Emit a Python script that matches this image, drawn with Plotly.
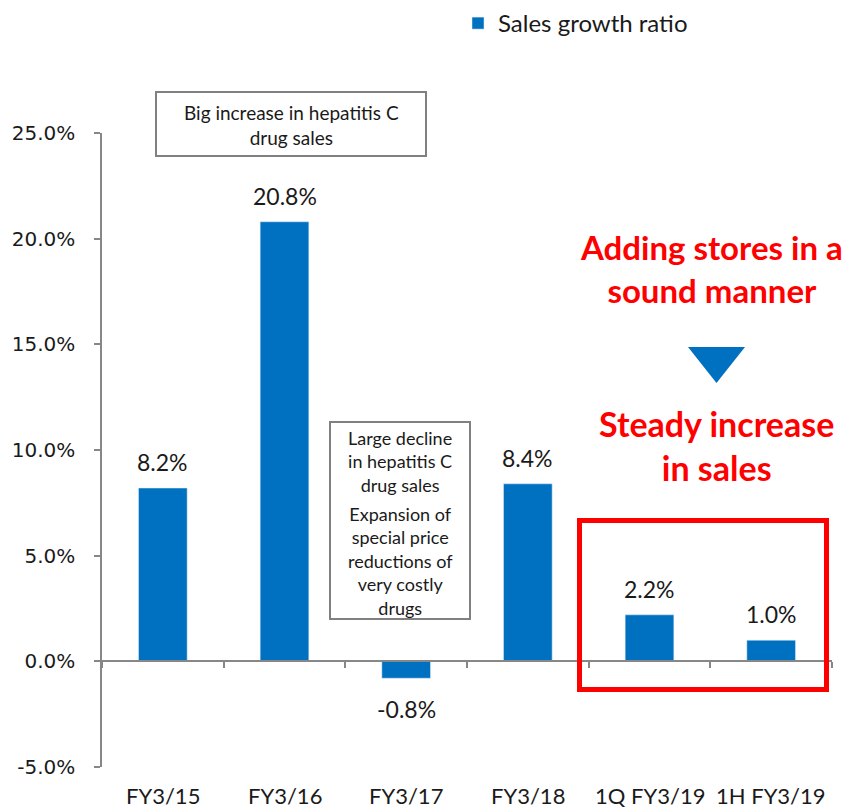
import plotly.graph_objects as go

categories = ["FY3/15", "FY3/16", "FY3/17", "FY3/18", "1Q FY3/19", "1H FY3/19"]
growth_pct = [8.2, 20.8, -0.8, 8.4, 2.2, 1.0]
y_ticks = [-5, 0, 5, 10, 15, 20, 25]

BLUE = "#0070C0"
RED = "#FF0000"
GREY = "#878787"
BOX_GREY = "#808080"
TEXT = "#1a1a1a"
BODY_FONT = "Lato"

Y_MIN, Y_MAX = -5, 25
# the page body adds an 8px margin, so the figure is drawn 8px smaller
PAGE_PAD = 8
W, H = 853 - PAGE_PAD, 810 - PAGE_PAD
PLOT_LEFT, PLOT_RIGHT, PLOT_TOP, PLOT_BOTTOM = 102, 832, 133, 767  # in screen pixels
L, T = PLOT_LEFT - PAGE_PAD, PLOT_TOP - PAGE_PAD
R, B = W - (PLOT_RIGHT - PAGE_PAD), H - (PLOT_BOTTOM - PAGE_PAD)
PW, PH = PLOT_RIGHT - PLOT_LEFT, PLOT_BOTTOM - PLOT_TOP


def px_x(p):
    return (p - PLOT_LEFT) / PW


def px_y(p):
    return (PLOT_BOTTOM - p) / PH


def note(x, y, text, size, color=TEXT):
    fig.add_annotation(
        x=px_x(x), y=px_y(y), xref="paper", yref="paper", showarrow=False,
        xanchor="center", yanchor="middle", text=text,
        font=dict(family=BODY_FONT, size=size, color=color),
    )


fig = go.Figure()
fig.add_trace(go.Bar(x=categories, y=growth_pct, name="Sales growth ratio", marker_color=BLUE))

# value labels
for cat, v in zip(categories, growth_pct):
    fig.add_annotation(
        x=cat, y=v, xref="x", yref="y", text=f"{v:.1f}%", showarrow=False,
        xanchor="center", yanchor="middle", yshift=26 if v >= 0 else -31,
        font=dict(family=BODY_FONT, size=23, color=TEXT),
    )

# category labels under the chart
for cat in categories:
    fig.add_annotation(
        x=cat, y=0, xref="x", yref="paper", text=cat, showarrow=False,
        xanchor="center", yanchor="middle", yshift=-28,
        font=dict(family=BODY_FONT, size=22, color=TEXT),
    )

# grey comment boxes
fig.add_shape(type="rect", xref="paper", yref="paper",
              x0=px_x(156), x1=px_x(426), y0=px_y(156), y1=px_y(92),
              line=dict(color=BOX_GREY, width=2), fillcolor="white", layer="below")
note(291, 124.5, "Big increase in hepatitis C<br>drug sales", 19)
fig.add_shape(type="rect", xref="paper", yref="paper",
              x0=px_x(330), x1=px_x(470), y0=px_y(619), y1=px_y(422),
              line=dict(color=BOX_GREY, width=2), fillcolor="white", layer="below")
note(400, 461.5, "Large decline<br>in hepatitis C<br>drug sales", 18)
note(400, 561, "Expansion of<br>special price<br>reductions of<br>very costly<br>drugs", 18)

# red call-outs
note(711, 268, "<b>Adding stores in a<br>sound manner</b>", 33, RED)
note(716, 445, "<b>Steady increase<br>in sales</b>", 34, RED)
fig.add_shape(
    type="path", xref="paper", yref="paper",
    path=f"M {px_x(688)} {px_y(347)} L {px_x(745)} {px_y(347)} L {px_x(716.5)} {px_y(383)} Z",
    fillcolor=BLUE, line=dict(width=0),
)
fig.add_shape(
    type="rect", xref="paper", yref="paper",
    x0=px_x(579.5), x1=px_x(826.5), y0=px_y(689.5), y1=px_y(520.5),
    line=dict(color=RED, width=5),
)

fig.update_layout(
    width=W, height=H,
    margin=dict(l=L, r=R, t=T, b=B, autoexpand=False),
    plot_bgcolor="white", paper_bgcolor="white",
    bargap=0.6,
    showlegend=True,
    legend=dict(
        orientation="h", x=px_x(458), y=px_y(1), xanchor="left", yanchor="top",
        font=dict(family=BODY_FONT, size=24, color=TEXT),
    ),
    xaxis=dict(
        type="category", anchor="free", position=(0 - Y_MIN) / (Y_MAX - Y_MIN),
        showline=True, linecolor=GREY, linewidth=1.5,
        ticks="outside", tickson="boundaries", ticklen=6, tickcolor=GREY, tickwidth=1.5,
        showticklabels=False, showgrid=False, zeroline=False,
    ),
    yaxis=dict(
        range=[Y_MIN, Y_MAX], tickmode="array", tickvals=y_ticks,
        ticktext=[f"{v:.1f}%" for v in y_ticks],
        showline=True, linecolor=GREY, linewidth=1.5,
        ticks="outside", ticklen=6, tickcolor=GREY, tickwidth=1.5,
        ticklabelstandoff=15,
        showgrid=False, zeroline=False,
        tickfont=dict(family="DejaVu Sans", size=20, color=TEXT),
    ),
)

fig.write_html("out.html")
